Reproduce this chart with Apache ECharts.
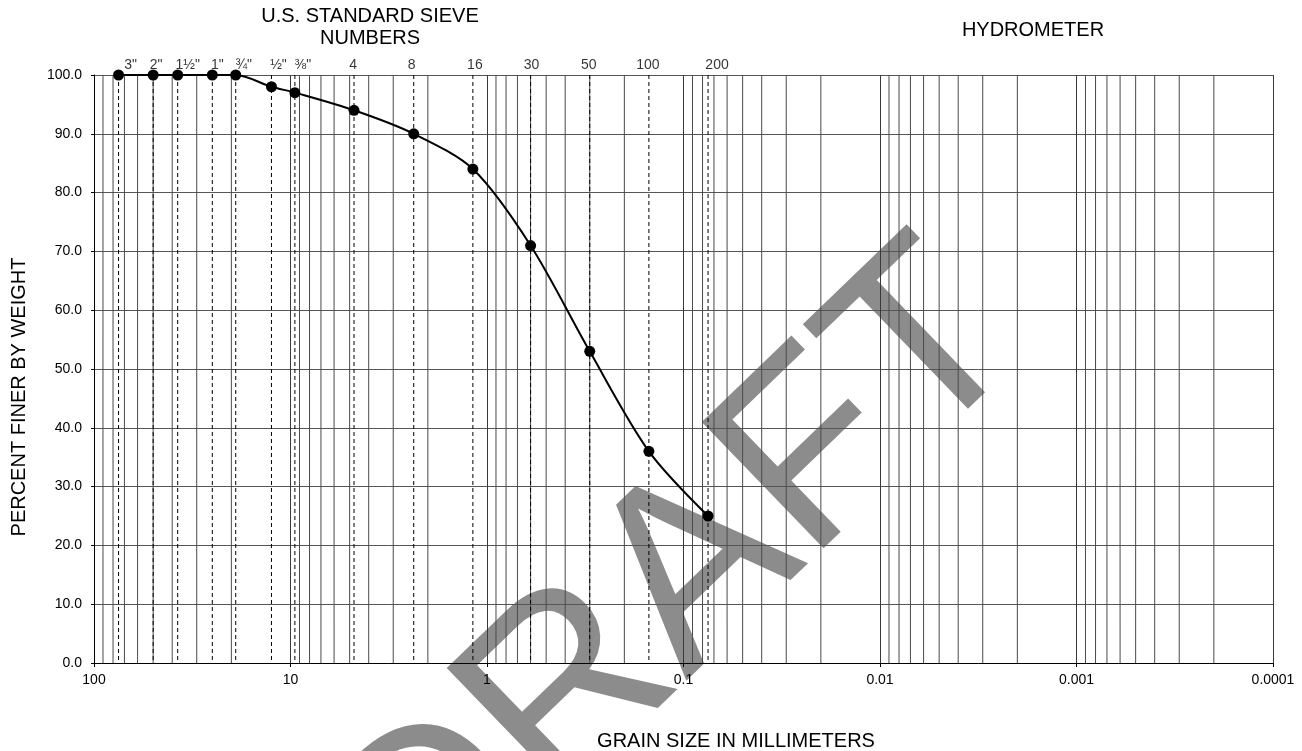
<!DOCTYPE html>
<html>
<head>
<meta charset="utf-8">
<script src="https://cdn.jsdelivr.net/npm/echarts@6/dist/echarts.min.js"></script>
<style>
  html, body { margin: 0; padding: 0; background: #ffffff; }
  #chart { width: 1302px; height: 751px; }
</style>
</head>
<body>
<div id="chart"></div>
<script>
// Sieve openings (mm) and their U.S. standard designations
const sieveLabels = ['3"', '2"', '1½"', '1"', '¾"', '½"', '⅜"', '4', '8', '16', '30', '50', '100', '200'];
const sieveSizes = [75, 50, 37.5, 25, 19, 12.5, 9.5, 4.75, 2.36, 1.18, 0.6, 0.3, 0.15, 0.075];
// Percent passing each sieve
const percentFiner = [100, 100, 100, 100, 100, 98, 97, 94, 90, 84, 71, 53, 36, 25];
// Decade labels of the grain-size axis, largest first
const xTickLabels = ['100', '10', '1', '0.1', '0.01', '0.001', '0.0001'];
const xDecades = [100, 10, 1, 0.1, 0.01, 0.001, 0.0001];

// Horizontal nudge (px) for each sieve designation above the frame
const sieveLabelNudge = [12, 3, 10, 5, 8, 7, 8, -1, -2, 2, 1, -1, -1, 9];

const FONT = '"Liberation Sans", Arial, Helvetica, sans-serif';

// Log-cycle sub-divisions (2..9 within every decade)
const minorLines = [];
for (let d = 0; d < xDecades.length - 1; d++) {
  const base = xDecades[d + 1];
  for (let m = 2; m <= 9; m++) minorLines.push(+(base * m).toPrecision(6));
}

const gradation = sieveSizes.map((s, i) => [s, percentFiner[i]]);
const sieveMarks = sieveSizes.map((s, i) => ({
  value: [s, 100],
  label: { offset: [sieveLabelNudge[i], 0] }
}));

// Full-height vertical rule at a grain size, drawn through the axis scales
function verticalRule(stroke, dash) {
  return function (params, api) {
    const v = api.value(0);
    const top = api.coord([v, 100]);
    const bottom = api.coord([v, 0]);
    return {
      type: 'line',
      shape: { x1: top[0], y1: top[1], x2: bottom[0], y2: bottom[1] },
      style: { stroke: stroke, lineWidth: 1, lineDash: dash }
    };
  };
}

const chart = echarts.init(document.getElementById('chart'), null, { renderer: 'canvas' });

chart.setOption({
  animation: false,
  backgroundColor: '#ffffff',
  textStyle: { fontFamily: FONT },
  grid: { left: 94, right: 29, top: 75, bottom: 88, containLabel: false },
  xAxis: {
    type: 'log',
    logBase: 10,
    min: 0.0001,
    max: 100,
    inverse: true,
    axisLine: { show: true, lineStyle: { color: '#000000', width: 1 } },
    axisTick: { show: true, length: 4, lineStyle: { color: '#000000' } },
    axisLabel: {
      margin: 10,
      color: '#000000',
      fontSize: 14,
      fontFamily: FONT,
      formatter: v => xTickLabels[2 - Math.round(Math.log10(v))]
    },
    splitLine: { show: true, lineStyle: { color: '#3a3a3a', width: 1 } },
    minorTick: { show: false },
    minorSplitLine: { show: false }
  },
  yAxis: {
    type: 'value',
    min: 0,
    max: 100,
    interval: 10,
    axisLine: { show: true, lineStyle: { color: '#000000', width: 1 } },
    axisTick: { show: true, length: 3, lineStyle: { color: '#000000' } },
    axisLabel: {
      margin: 12,
      color: '#000000',
      fontSize: 14,
      fontFamily: FONT,
      formatter: v => v.toFixed(1)
    },
    splitLine: { show: true, lineStyle: { color: '#555555', width: 1 } }
  },
  graphic: [
    {
      type: 'text', z: -10, silent: true,
      x: 678, y: 591, rotation: 44 * Math.PI / 180,
      style: {
        text: 'DRAFT', fill: '#8c8c8c',
        font: '255px ' + FONT,
        align: 'center', verticalAlign: 'middle',
        textAlign: 'center', textVerticalAlign: 'middle'
      }
    },
    {
      type: 'text', silent: true, x: 370, y: 5.5,
      style: {
        text: 'U.S. STANDARD SIEVE\nNUMBERS', fill: '#000000',
        font: '20px ' + FONT, lineHeight: 22,
        align: 'center', textAlign: 'center', verticalAlign: 'top', textVerticalAlign: 'top'
      }
    },
    {
      type: 'text', silent: true, x: 1033, y: 30,
      style: {
        text: 'HYDROMETER', fill: '#000000', font: '20px ' + FONT,
        align: 'center', textAlign: 'center', verticalAlign: 'middle', textVerticalAlign: 'middle'
      }
    },
    {
      type: 'text', silent: true, x: 736, y: 741,
      style: {
        text: 'GRAIN SIZE IN MILLIMETERS', fill: '#000000', font: '20px ' + FONT,
        align: 'center', textAlign: 'center', verticalAlign: 'middle', textVerticalAlign: 'middle'
      }
    },
    {
      type: 'text', silent: true, x: 19, y: 397, rotation: Math.PI / 2,
      style: {
        text: 'PERCENT FINER BY WEIGHT', fill: '#000000', font: '20px ' + FONT,
        align: 'center', textAlign: 'center', verticalAlign: 'middle', textVerticalAlign: 'middle'
      }
    }
  ],
  series: [
    {
      name: 'log-cycle rules',
      type: 'custom',
      silent: true,
      z: 1,
      data: minorLines.map(v => [v, 0]),
      renderItem: verticalRule('#4a4a4a', null)
    },
    {
      name: 'sieve rules',
      type: 'custom',
      silent: true,
      z: 1,
      data: sieveSizes.map(v => [v, 0]),
      renderItem: verticalRule('#000000', [4, 3])
    },
    {
      name: 'sieves',
      type: 'scatter',
      data: sieveMarks,
      symbolSize: 0,
      silent: true,
      z: 3,
      label: {
        show: true,
        position: 'top',
        distance: 3,
        color: '#000000',
        fontSize: 14,
        fontFamily: FONT,
        formatter: p => sieveLabels[p.dataIndex]
      }
    },
    {
      name: 'gradation',
      type: 'line',
      data: gradation,
      smooth: 0.3,
      symbol: 'circle',
      symbolSize: 11,
      z: 5,
      itemStyle: { color: '#000000' },
      lineStyle: { color: '#000000', width: 2 }
    }
  ]
});
</script>
</body>
</html>
